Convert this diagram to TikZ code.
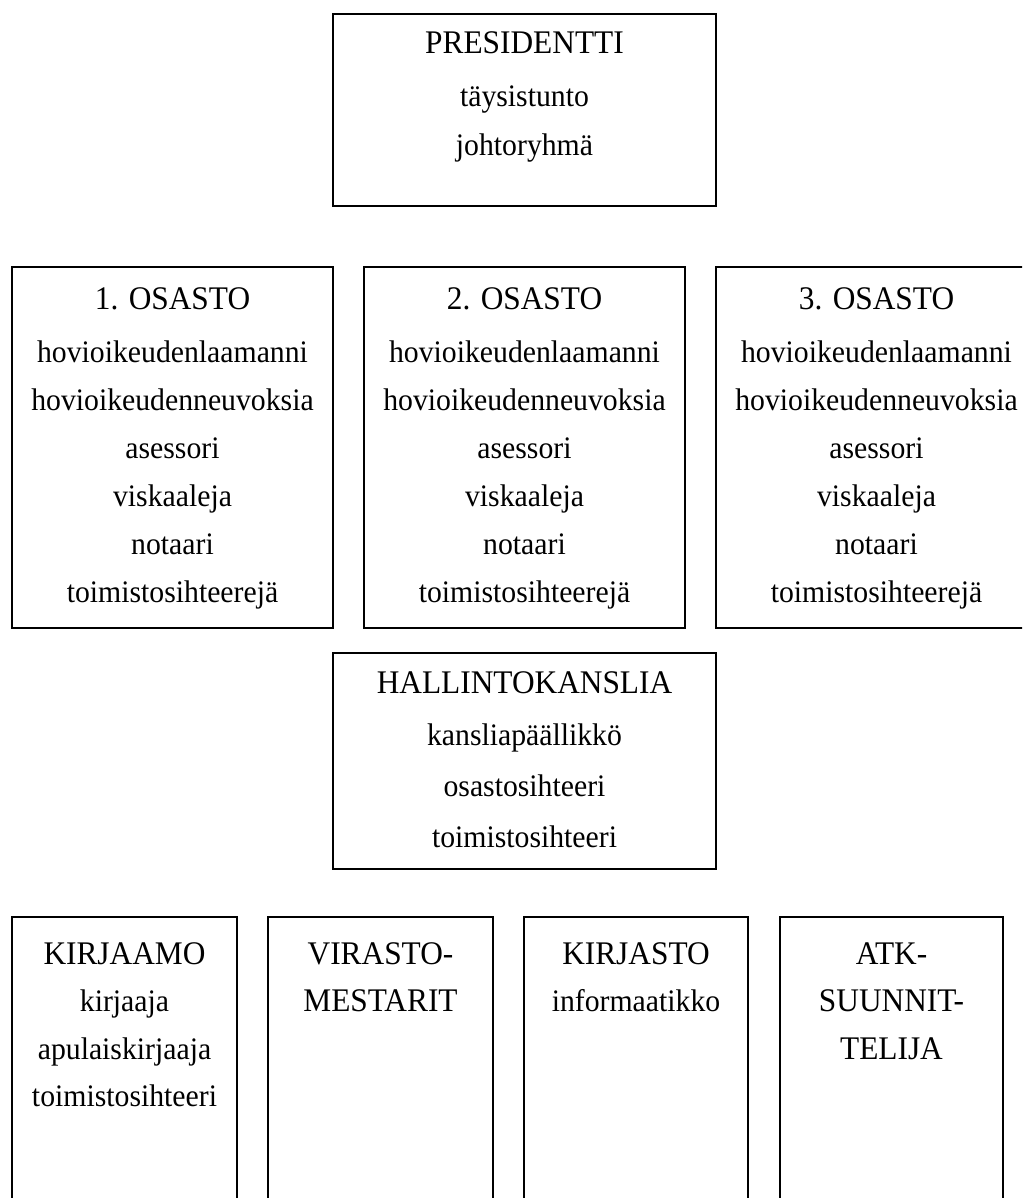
\documentclass[tikz,border=0pt]{standalone}
\usepackage{fontspec}
\setmainfont[FakeStretch=0.95]{Liberation Serif}
\tikzset{
  box/.style={draw, line width=1.6pt, inner sep=0pt, outer sep=0pt, rectangle},
  head/.style={anchor=base, inner sep=0pt, font=\fontsize{33}{38}\selectfont},
  body/.style={anchor=base, inner sep=0pt, font=\fontsize{31.3}{36}\selectfont},
}
\begin{document}
\begin{tikzpicture}[x=1pt,y=-1pt]
\useasboundingbox (0,0) rectangle (1022,1198);
\clip (0,0) rectangle (1022,1198);
\fill[white] (0,0) rectangle (1022,1198);

% PRESIDENTTI
\node[box, minimum width=383pt, minimum height=192pt] (pres) at (524.5,110) {};
\node[head] (pres-h) at (524.5,54) {PRESIDENTTI};
\node[body] (pres-1) at (524.5,107) {täysistunto};
\node[body] (pres-2) at (524.5,156) {johtoryhmä};

% OSASTOT
\foreach \nm/\cx/\hd in {d1/172.5/1. OSASTO, d2/524.5/2. OSASTO, d3/876.5/3. OSASTO}{
  \node[box, minimum width=321pt, minimum height=361pt] (\nm) at (\cx,447.5) {};
  \node[head] (\nm-h) at (\cx,309) {\hd};
  \foreach \t [count=\i] in {hovioikeudenlaamanni, hovioikeudenneuvoksia, asessori, viskaaleja, notaari, toimistosihteerejä}{
    \node[body] (\nm-\i) at (\cx,{362+48*(\i-1)}) {\t};
  }
}

% HALLINTOKANSLIA
\node[box, minimum width=383pt, minimum height=216pt] (hall) at (524.5,761) {};
\node[head] (hall-h) at (524.5,693) {HALLINTOKANSLIA};
\node[body] (hall-1) at (524.5,745) {kansliapäällikkö};
\node[body] (hall-2) at (524.5,796) {osastosihteeri};
\node[body] (hall-3) at (524.5,847) {toimistosihteeri};

% Bottom row
\node[box, minimum width=225pt, minimum height=313pt] (kirjaamo) at (124.5,1073.5) {};
\node[head] (kirjaamo-h) at (124.5,964) {KIRJAAMO};
\node[body] (kirjaamo-1) at (124.5,1011) {kirjaaja};
\node[body] (kirjaamo-2) at (124.5,1059) {apulaiskirjaaja};
\node[body] (kirjaamo-3) at (124.5,1106) {toimistosihteeri};

\node[box, minimum width=225pt, minimum height=313pt] (virasto) at (380.5,1073.5) {};
\node[head] (virasto-h) at (380.5,964) {VIRASTO-};
\node[head] (virasto-1) at (380.5,1011) {MESTARIT};

\node[box, minimum width=224pt, minimum height=313pt] (kirjasto) at (636,1073.5) {};
\node[head] (kirjasto-h) at (636,964) {KIRJASTO};
\node[body] (kirjasto-1) at (636,1011) {informaatikko};

\node[box, minimum width=223pt, minimum height=313pt] (atk) at (891.5,1073.5) {};
\node[head] (atk-h) at (891.5,964) {ATK-};
\node[head] (atk-1) at (891.5,1011) {SUUNNIT-};
\node[head] (atk-2) at (891.5,1059) {TELIJA};
\end{tikzpicture}
\end{document}
